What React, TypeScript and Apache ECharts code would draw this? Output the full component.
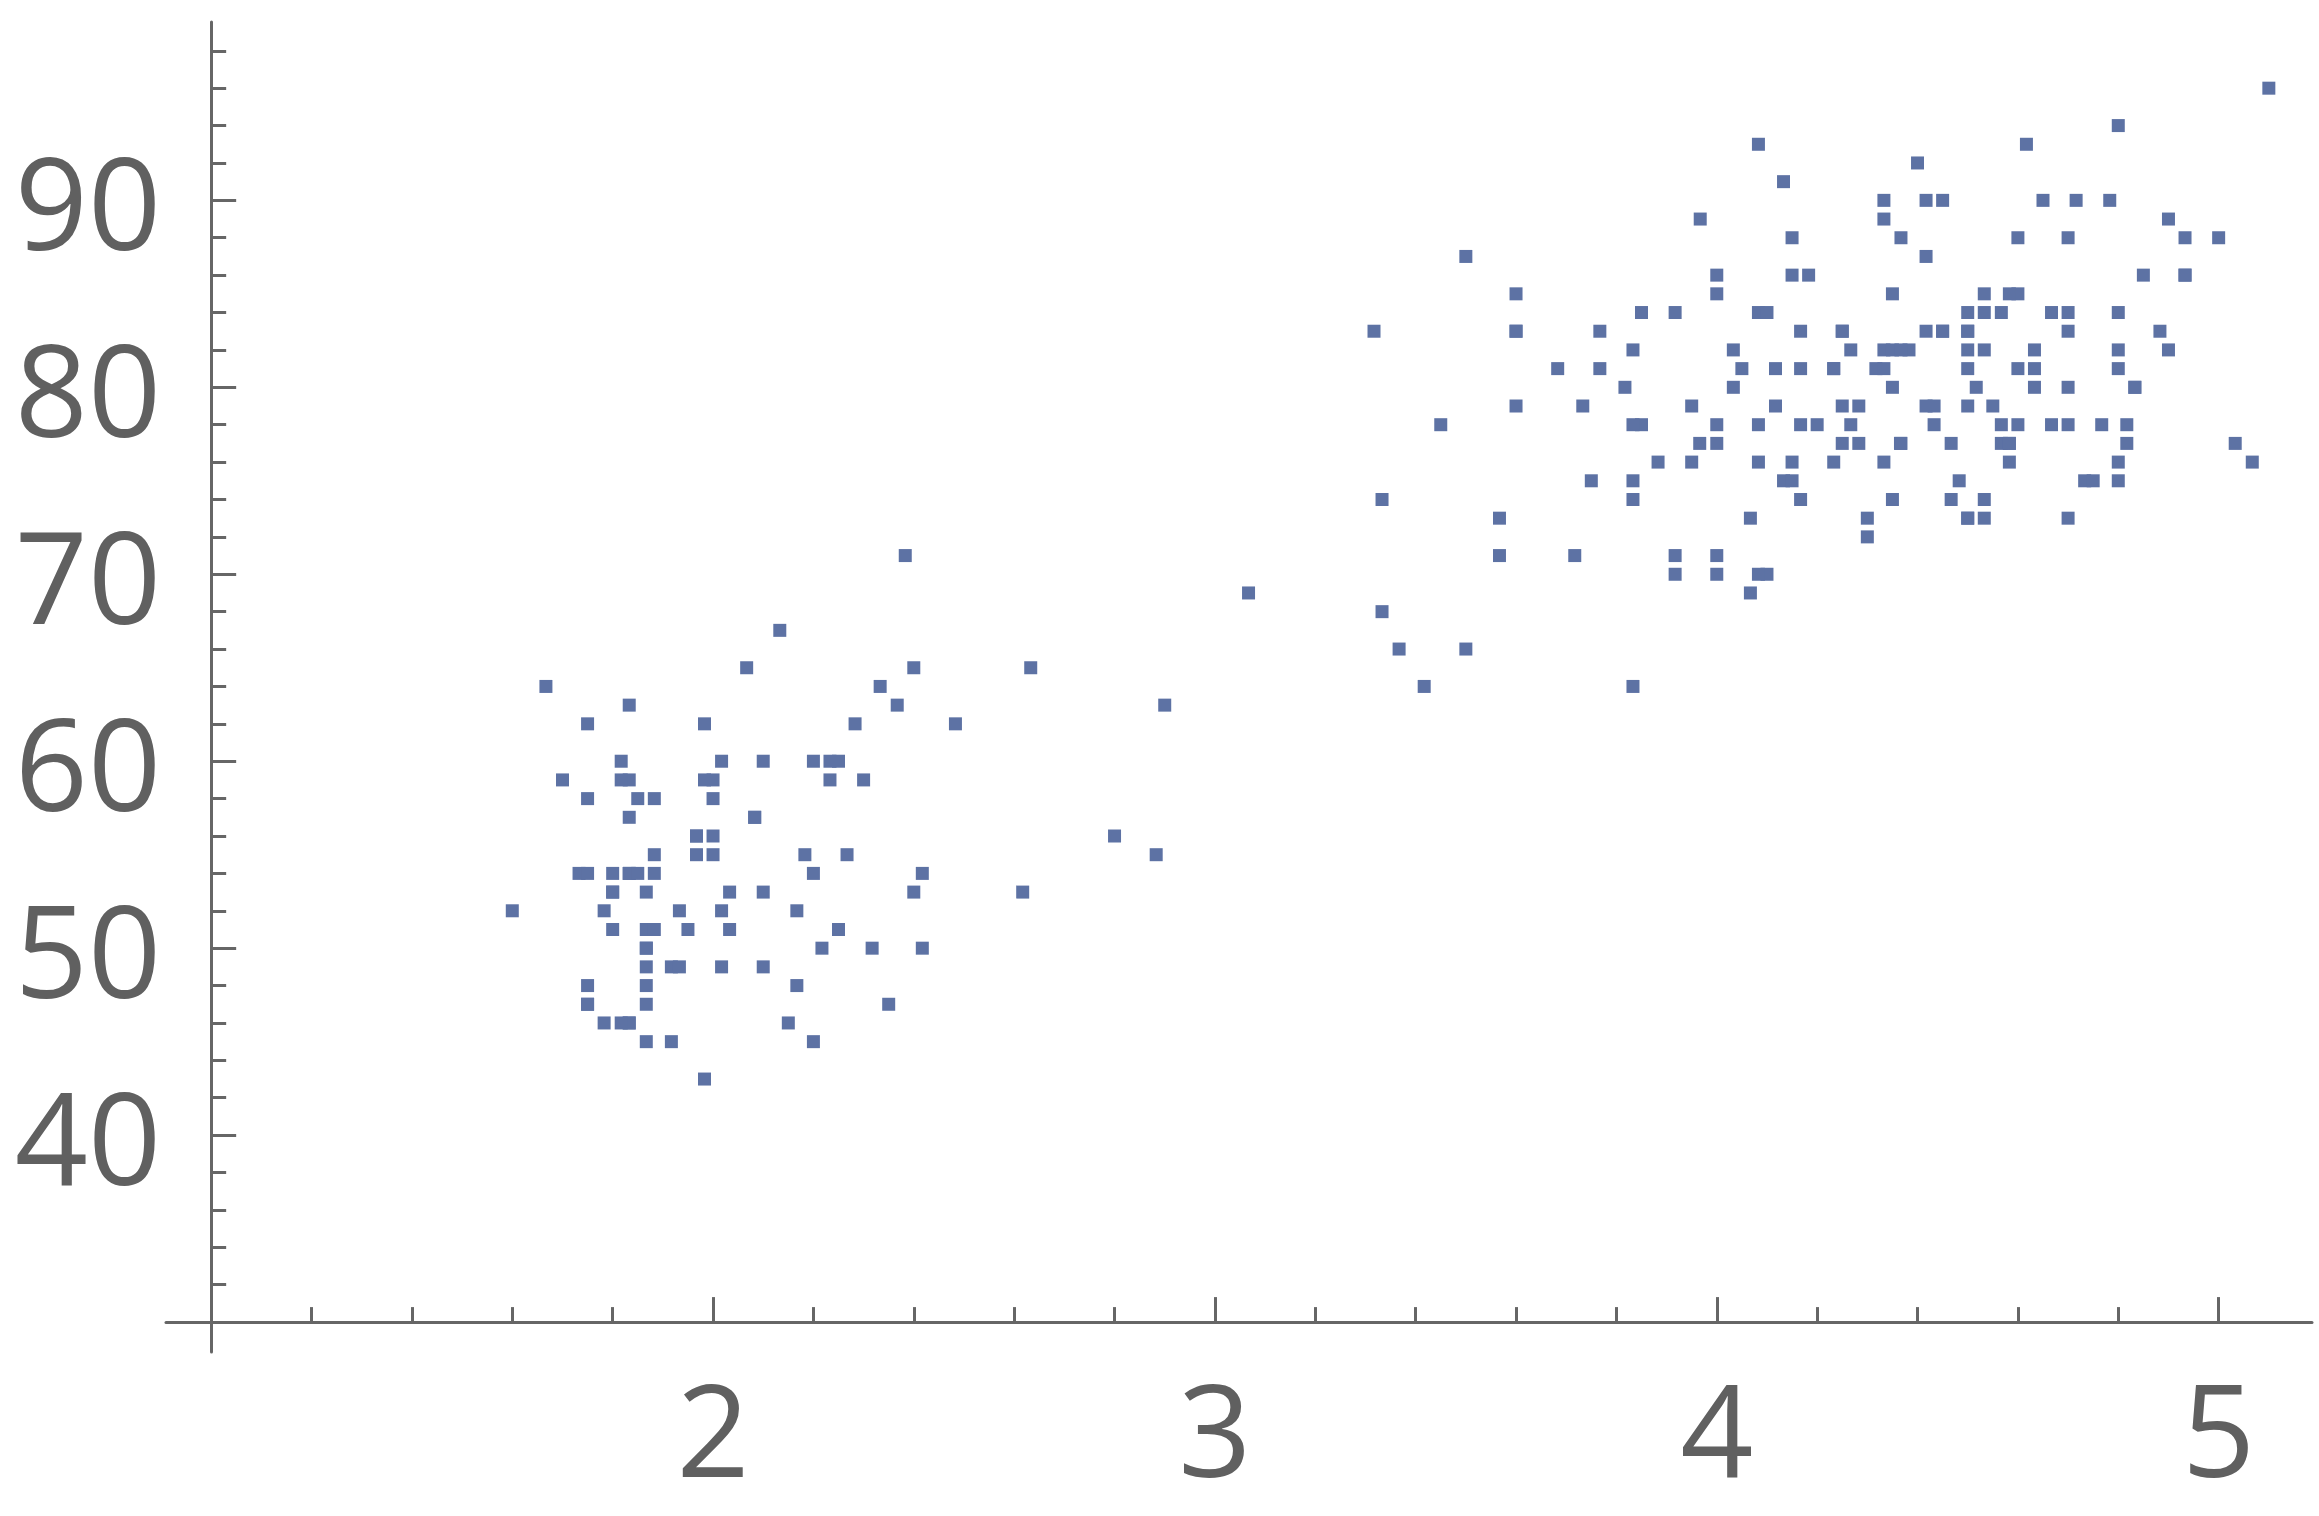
import React, { useEffect, useRef } from "react";
import * as echarts from "echarts";

const ERUPTIONS = [
  3.6, 1.8, 3.333, 2.283, 4.533, 2.883, 4.7, 3.6, 1.95, 4.35,
  1.833, 3.917, 4.2, 1.75, 4.7, 2.167, 1.75, 4.8, 1.6, 4.25,
  1.8, 1.75, 3.45, 3.067, 4.533, 3.6, 1.967, 4.083, 3.85, 4.433,
  4.3, 4.467, 3.367, 4.033, 3.833, 2.017, 1.867, 4.833, 1.833, 4.783,
  4.35, 1.883, 4.567, 1.75, 4.533, 3.317, 3.833, 2.1, 4.633, 2.0,
  4.8, 4.716, 1.833, 4.833, 1.733, 4.883, 3.717, 1.667, 4.567, 4.317,
  2.233, 4.5, 1.75, 4.8, 1.817, 4.4, 4.167, 4.7, 2.067, 4.7,
  4.033, 1.967, 4.5, 4.0, 1.983, 5.067, 2.017, 4.567, 3.883, 3.6,
  4.133, 4.333, 4.1, 2.633, 4.067, 4.933, 3.95, 4.517, 2.167, 4.0,
  2.2, 4.333, 1.867, 4.817, 1.833, 4.3, 4.667, 3.75, 1.867, 4.9,
  2.483, 4.367, 2.1, 4.5, 4.05, 1.867, 4.7, 1.783, 4.85, 3.683,
  4.733, 2.3, 4.9, 4.417, 1.7, 4.633, 2.317, 4.6, 1.817, 4.417,
  2.617, 4.067, 4.25, 1.967, 4.6, 3.767, 1.917, 4.5, 2.267, 4.65,
  1.867, 4.167, 2.8, 4.333, 1.833, 4.383, 1.883, 4.933, 2.033, 3.733,
  4.233, 2.233, 4.533, 4.817, 4.333, 1.983, 4.633, 2.017, 5.1, 1.8,
  5.033, 4.0, 2.4, 4.6, 3.567, 4.0, 4.5, 4.083, 1.8, 3.967,
  2.2, 4.15, 2.0, 3.833, 3.5, 4.583, 2.367, 5.0, 1.933, 4.617,
  1.917, 2.083, 4.583, 3.333, 4.167, 4.333, 4.5, 2.417, 4.0, 4.167,
  1.883, 4.583, 4.25, 3.767, 2.033, 4.433, 4.083, 1.833, 4.417, 2.183,
  4.8, 1.833, 4.8, 4.1, 3.966, 4.233, 3.5, 4.366, 2.25, 4.667,
  2.1, 4.35, 4.133, 1.867, 4.6, 1.783, 4.367, 3.85, 1.933, 4.5,
  2.383, 4.7, 1.867, 3.833, 3.417, 4.233, 2.4, 4.8, 2.0, 4.15,
  1.867, 4.267, 1.75, 4.483, 4.0, 4.117, 4.083, 4.267, 3.917, 4.55,
  4.083, 2.417, 4.183, 2.217, 4.45, 1.883, 1.85, 4.283, 3.95, 2.333,
  4.15, 2.35, 4.933, 2.9, 4.583, 3.833, 2.083, 4.367, 2.133, 4.35,
  2.2, 4.45, 3.567, 4.5, 4.15, 3.817, 3.917, 4.45, 2.0, 4.283,
  4.767, 4.533, 1.85, 4.25, 1.983, 2.25, 4.75, 4.117, 2.15, 4.417,
  1.817, 4.467,
];

const WAITING = [
  79, 54, 74, 62, 85, 55, 88, 85, 51, 85,
  54, 84, 78, 47, 83, 52, 62, 84, 52, 79,
  51, 47, 78, 69, 74, 83, 55, 76, 78, 79,
  73, 77, 66, 80, 74, 52, 48, 80, 59, 90,
  80, 58, 84, 58, 73, 83, 64, 53, 82, 59,
  75, 90, 54, 80, 54, 83, 71, 64, 77, 81,
  59, 84, 48, 82, 60, 92, 78, 78, 65, 73,
  82, 56, 79, 71, 62, 76, 60, 78, 76, 83,
  75, 82, 70, 65, 73, 88, 76, 80, 48, 86,
  60, 90, 50, 78, 63, 72, 84, 75, 51, 82,
  62, 88, 49, 83, 81, 47, 84, 52, 86, 81,
  75, 59, 89, 79, 59, 81, 50, 85, 59, 87,
  53, 69, 77, 56, 88, 81, 45, 82, 55, 90,
  45, 83, 56, 89, 46, 82, 51, 86, 53, 79,
  81, 60, 82, 77, 76, 59, 80, 49, 96, 53,
  77, 77, 65, 81, 71, 70, 81, 93, 53, 89,
  45, 86, 58, 78, 66, 76, 63, 88, 52, 93,
  49, 57, 77, 68, 81, 81, 73, 50, 85, 74,
  55, 77, 83, 83, 51, 78, 84, 46, 83, 55,
  81, 57, 76, 84, 77, 81, 87, 77, 51, 78,
  60, 82, 91, 53, 78, 46, 77, 84, 49, 83,
  71, 80, 49, 75, 64, 76, 53, 94, 55, 76,
  50, 82, 54, 75, 78, 79, 78, 78, 70, 79,
  70, 54, 86, 50, 90, 54, 54, 77, 79, 64,
  75, 47, 86, 63, 85, 82, 57, 82, 67, 74,
  54, 83, 73, 73, 88, 80, 71, 83, 56, 79,
  78, 84, 58, 83, 43, 60, 75, 81, 46, 90,
  46, 74,
];

const X_MAJOR = [2, 3, 4, 5];
const X_MINOR = [1.2, 1.4, 1.6, 1.8, 2.2, 2.4, 2.6, 2.8, 3.2, 3.4, 3.6, 3.8, 4.2, 4.4, 4.6, 4.8];
const Y_MAJOR = [40, 50, 60, 70, 80, 90];
const Y_MINOR = [32, 34, 36, 38, 42, 44, 46, 48, 52, 54, 56, 58, 62, 64, 66, 68, 72, 74, 76, 78, 82, 84, 86, 88, 92, 94, 96, 98];

const X_RANGE = [0.91, 5.186];
const Y_RANGE = [28.4, 99.54];
const AXIS_ORIGIN = [1, 30];

const W = 2319;
const H = 1516;
const GRID = { left: 166, right: 7, top: 22, bottom: 164 };

const AXIS_COLOR = "#666666";
const LABEL_COLOR = "#606060";
const POINT_COLOR = "#5d72a4";
const FONT = "'Open Sans', 'Noto Sans', sans-serif";

export default function App() {
  const ref = useRef<HTMLDivElement>(null);

  useEffect(() => {
    if (!ref.current) return;
    const chart = echarts.init(ref.current, undefined, { renderer: "svg" });

    const gridW = W - GRID.left - GRID.right;
    const gridH = H - GRID.top - GRID.bottom;
    const xOff = ((AXIS_ORIGIN[0] - X_RANGE[0]) / (X_RANGE[1] - X_RANGE[0])) * gridW;
    const yOff = ((AXIS_ORIGIN[1] - Y_RANGE[0]) / (Y_RANGE[1] - Y_RANGE[0])) * gridH;

    const lineStyle = { color: AXIS_COLOR, width: 3 };
    const label = {
      fontSize: 128,
      lineHeight: 128,
      color: LABEL_COLOR,
      fontFamily: FONT,
    };

    const data = ERUPTIONS.map((e, i) => [e, WAITING[i]]);

    chart.setOption({
      animation: false,
      backgroundColor: "#ffffff",
      grid: { ...GRID, containLabel: false },
      xAxis: [
        {
          type: "value",
          min: X_RANGE[0],
          max: X_RANGE[1],
          position: "bottom",
          offset: -yOff,
          axisLine: { show: true, onZero: false, lineStyle },
          axisTick: { show: true, inside: true, length: 25, lineStyle, customValues: X_MAJOR },
          axisLabel: { ...label, margin: 41, customValues: X_MAJOR, formatter: (v: number) => String(v) },
          splitLine: { show: false },
        },
        {
          type: "value",
          min: X_RANGE[0],
          max: X_RANGE[1],
          position: "bottom",
          offset: -yOff,
          axisLine: { show: false, onZero: false },
          axisTick: { show: true, inside: true, length: 15, lineStyle, customValues: X_MINOR },
          axisLabel: { show: false },
          splitLine: { show: false },
        },
      ],
      yAxis: [
        {
          type: "value",
          min: Y_RANGE[0],
          max: Y_RANGE[1],
          position: "left",
          offset: -xOff,
          axisLine: { show: true, onZero: false, lineStyle },
          axisTick: { show: true, inside: true, length: 25, lineStyle, customValues: Y_MAJOR },
          axisLabel: { ...label, margin: 50, customValues: Y_MAJOR, formatter: (v: number) => String(v) },
          splitLine: { show: false },
        },
        {
          type: "value",
          min: Y_RANGE[0],
          max: Y_RANGE[1],
          position: "left",
          offset: -xOff,
          axisLine: { show: false, onZero: false },
          axisTick: { show: true, inside: true, length: 15, lineStyle, customValues: Y_MINOR },
          axisLabel: { show: false },
          splitLine: { show: false },
        },
      ],
      series: [
        {
          type: "scatter",
          xAxisIndex: 0,
          yAxisIndex: 0,
          data,
          symbol: "rect",
          symbolSize: 13,
          itemStyle: { color: POINT_COLOR, opacity: 1 },
          emphasis: { disabled: true },
        },
      ],
    });

    return () => chart.dispose();
  }, []);

  return (
    <div
      ref={ref}
      style={{ position: "fixed", left: 0, top: 0, width: W, height: H, background: "#fff" }}
    />
  );
}
